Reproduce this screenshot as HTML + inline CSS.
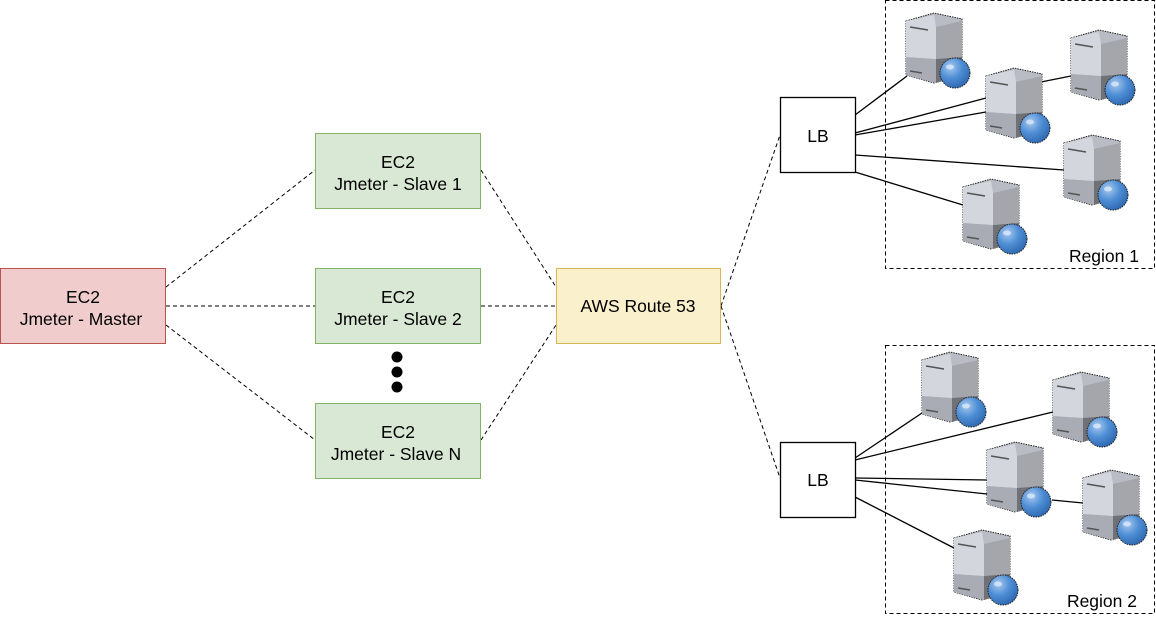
<!DOCTYPE html>
<html><head><meta charset="utf-8"><style>
html,body{margin:0;padding:0;background:#fff;width:1156px;height:618px;overflow:hidden}
svg text{font-family:"Liberation Sans",sans-serif;font-size:17.5px;fill:#000}
</style></head><body>
<svg width="1156" height="618" viewBox="0 0 1156 618" xmlns="http://www.w3.org/2000/svg">
<defs>
<radialGradient id="bg" cx="0.35" cy="0.3" r="0.75">
<stop offset="0" stop-color="#a8c8ee"/><stop offset="0.5" stop-color="#4f8fd6"/><stop offset="1" stop-color="#2d67b0"/></radialGradient>
<g id="srv">
<path d="M0,8 L28,0 L56,6 L56,62 L28,70 L0,62 Z" fill="#b9bcc4" stroke="#222" stroke-width="1" stroke-dasharray="1.5,1"/>
<path d="M0,8 L28,2 L30,14 L30,70 L0,62 Z" fill="#d3d6dc"/>
<path d="M30,14 L56,8 L56,44 L30,46 Z" fill="#a4a6ab"/>
<path d="M30,46 L56,44 L56,62 L30,70 Z" fill="#6f7176"/>
<path d="M0,44 L30,46 L30,70 L0,62 Z" fill="#a9acb4"/>
<line x1="4" y1="14" x2="22" y2="17" stroke="#555" stroke-width="1.5"/>
<line x1="4" y1="58" x2="16" y2="60" stroke="#555" stroke-width="1.5"/>
<circle cx="49" cy="60" r="15" fill="url(#bg)" stroke="#222" stroke-width="1" stroke-dasharray="1.5,1"/>
<ellipse cx="44" cy="54" rx="4" ry="2.5" fill="#d8e8fa" opacity="0.8"/>
</g>
</defs>
<g stroke="#000" stroke-width="1" stroke-dasharray="4,3" fill="none">
<line x1="166" y1="287" x2="315" y2="170"/>
<line x1="166" y1="306" x2="315" y2="306"/>
<line x1="166" y1="325" x2="315" y2="440"/>
<line x1="481" y1="170" x2="556" y2="287"/>
<line x1="481" y1="306" x2="556" y2="306"/>
<line x1="481" y1="440" x2="556" y2="325"/>
<line x1="721" y1="306" x2="780" y2="135"/>
<line x1="721" y1="306" x2="780" y2="478"/>
<rect x="885.5" y="0.5" width="269" height="268"/>
<rect x="885.5" y="345.5" width="269" height="268"/>
</g>
<g stroke="#000" stroke-width="1.3">
<line x1="855" y1="115" x2="907" y2="76"/>
<line x1="855" y1="133" x2="986" y2="98"/>
<line x1="855" y1="135" x2="986" y2="112"/>
<line x1="855" y1="155" x2="1064" y2="170"/>
<line x1="855" y1="172" x2="963" y2="205"/>
<line x1="1041" y1="82" x2="1071" y2="76"/>
<line x1="855" y1="458" x2="922" y2="413"/>
<line x1="855" y1="460" x2="1053" y2="412"/>
<line x1="855" y1="478" x2="987" y2="480"/>
<line x1="855" y1="480" x2="987" y2="494"/>
<line x1="855" y1="497" x2="954" y2="548"/>
<line x1="1052" y1="500" x2="1083" y2="503"/>
</g>
<rect x="0.5" y="268.5" width="165" height="75" fill="#f0cdcc" stroke="#b85450"/>
<rect x="315.5" y="133.5" width="165" height="75" fill="#d9e8d4" stroke="#82b366"/>
<rect x="315.5" y="268.5" width="165" height="75" fill="#d9e8d4" stroke="#82b366"/>
<rect x="315.5" y="403.5" width="165" height="75" fill="#d9e8d4" stroke="#82b366"/>
<rect x="556.5" y="268.5" width="164" height="75" fill="#fbf0cc" stroke="#d6b656"/>
<rect x="780.5" y="97.5" width="75" height="75" fill="#fff" stroke="#000" stroke-width="1.3"/>
<rect x="780.5" y="442.5" width="75" height="75" fill="#fff" stroke="#000" stroke-width="1.3"/>
<circle cx="397" cy="357" r="5.5" fill="#000"/>
<circle cx="397" cy="372" r="5.5" fill="#000"/>
<circle cx="397" cy="387" r="5.5" fill="#000"/>
<g text-anchor="middle">
<text x="83" y="303">EC2</text><text x="81" y="325">Jmeter - Master</text>
<text x="398" y="168">EC2</text><text x="398" y="190">Jmeter - Slave 1</text>
<text x="398" y="303">EC2</text><text x="398" y="325">Jmeter - Slave 2</text>
<text x="398" y="438">EC2</text><text x="396" y="460">Jmeter - Slave N</text>
<text x="638" y="312">AWS Route 53</text>
<text x="818" y="142">LB</text>
<text x="818" y="486">LB</text>
</g>
<text x="1139" y="262" text-anchor="end">Region 1</text>
<text x="1137" y="607" text-anchor="end">Region 2</text>
<use href="#srv" x="906" y="13"/>
<use href="#srv" x="986" y="68"/>
<use href="#srv" x="1071" y="30"/>
<use href="#srv" x="1064" y="135"/>
<use href="#srv" x="963" y="179"/>
<use href="#srv" x="922" y="352"/>
<use href="#srv" x="1053" y="372"/>
<use href="#srv" x="987" y="442"/>
<use href="#srv" x="1083" y="470"/>
<use href="#srv" x="954" y="530"/>
</svg>
</body></html>
